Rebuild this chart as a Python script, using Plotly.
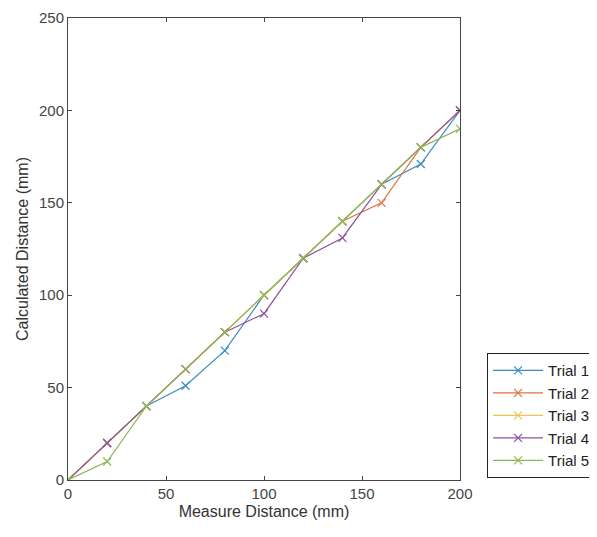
import plotly.graph_objects as go

measured = [0, 20, 40, 60, 80, 100, 120, 140, 160, 180, 200]
trial1 = [0, 20, 40, 51, 70, 100, 120, 140, 160, 171, 200]
trial2 = [0, 20, 40, 60, 80, 100, 120, 140, 150, 180, 200]
trial3 = [0, 20, 40, 60, 80, 100, 120, 140, 160, 180, 200]
trial4 = [0, 20, 40, 60, 80, 90, 120, 131, 160, 180, 200]
trial5 = [0, 10, 40, 60, 80, 100, 120, 140, 160, 180, 190]

names = ["Trial 1", "Trial 2", "Trial 3", "Trial 4", "Trial 5"]
series = [trial1, trial2, trial3, trial4, trial5]
colors = ["#3a8cc6", "#df7242", "#eec455", "#8d529c", "#8cb955"]

x_ticks = [0, 50, 100, 150, 200]
y_ticks = [0, 50, 100, 150, 200, 250]

fig = go.Figure()
for name, ys, c in zip(names, series, colors):
    fig.add_trace(go.Scatter(
        x=measured, y=ys, name=name, mode="lines+markers",
        line=dict(color=c, width=1.2),
        marker=dict(symbol="x-thin", size=8, line=dict(color=c, width=1.2), color=c),
    ))

axis_common = dict(
    showgrid=False, zeroline=False, showline=True, linecolor="#444", linewidth=1,
    mirror="allticks", ticks="inside", ticklen=4, tickcolor="#444",
    tickfont=dict(family="Liberation Sans, Arial", size=15, color="#444"),
    ticklabeloverflow="allow",
)

fig.update_layout(
    width=589, height=529,
    margin=dict(l=60, r=137, t=10, b=57, autoexpand=False),
    paper_bgcolor="white", plot_bgcolor="white",
    font=dict(family="Liberation Sans, Arial", size=15, color="#333"),
    xaxis=dict(range=[0, 200], tickvals=x_ticks,
               title=dict(text="Measure Distance (mm)", font=dict(size=16, color="#333"), standoff=4),
               **axis_common),
    yaxis=dict(range=[0, 250], tickvals=y_ticks,
               title=dict(text="Calculated Distance (mm)", font=dict(size=16, color="#333"), standoff=6),
               **axis_common),
    legend=dict(x=1.069, xanchor="left", y=0.004, yanchor="bottom",
                bordercolor="#222", borderwidth=1, bgcolor="white",
                font=dict(size=15, color="#222"), itemwidth=50, tracegroupgap=0),
    showlegend=True,
)

fig.write_html("out.html")
